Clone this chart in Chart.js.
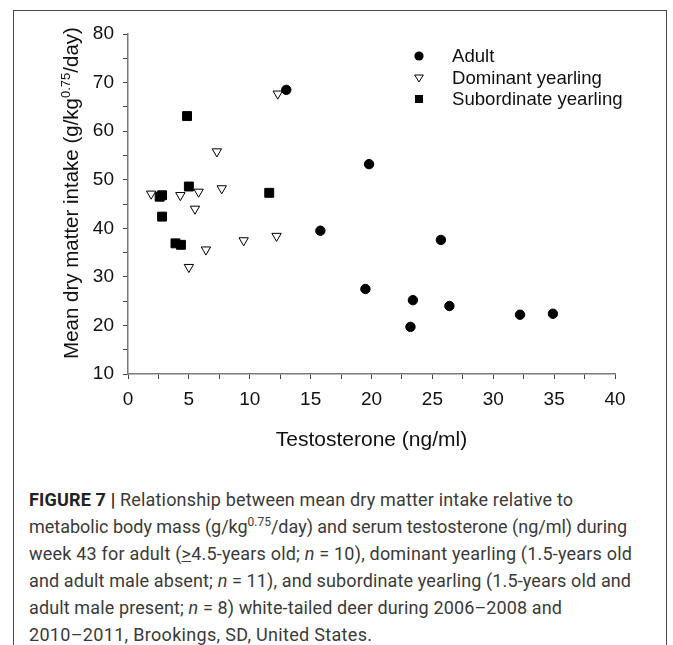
<!DOCTYPE html>
<html>
<head>
<meta charset="utf-8">
<script src="https://cdn.jsdelivr.net/npm/chart.js@4.4.1/dist/chart.umd.min.js"></script>
<style>
  html, body { margin: 0; padding: 0; background: #fff; }
  body { width: 673px; height: 645px; position: relative; overflow: hidden; }
  #frame { position: absolute; left: 13px; top: 10px; width: 654px; height: 700px; border: 1px solid #4a4a4a; box-sizing: border-box; }
  #chart { position: absolute; left: 0; top: 0; }
  #caption { position: absolute; left: 29px; top: 486px; font-family: Roboto, "Liberation Sans", sans-serif; font-size: 18px; line-height: 27px; color: #3a3a3a; white-space: nowrap; }
  #caption .line { display: block; width: max-content; }
  #caption b { color: #222; }
  #caption sup { font-size: 12px; line-height: 0; vertical-align: 7px; }
</style>
</head>
<body>
<div id="frame"></div>
<canvas id="chart" width="673" height="470"></canvas>
<div id="caption">
<span class="line"><b>FIGURE 7 |</b> Relationship between mean dry matter intake relative to</span>
<span class="line">metabolic body mass (g/kg<sup>0.75</sup>/day) and serum testosterone (ng/ml) during</span>
<span class="line">week 43 for adult (<u>&gt;</u>4.5-years old; <i>n</i> = 10), dominant yearling (1.5-years old</span>
<span class="line">and adult male absent; <i>n</i> = 11), and subordinate yearling (1.5-years old and</span>
<span class="line">adult male present; <i>n</i> = 8) white-tailed deer during 2006–2008 and</span>
<span class="line">2010–2011, Brookings, SD, United States.</span>
</div>
<script>
// testosterone (ng/ml) and intake (g/kg^0.75/day)
const adultX = [13.0, 19.8, 15.8, 25.7, 19.5, 23.4, 23.2, 26.4, 32.2, 34.9];
const adultY = [68.5, 53.2, 39.5, 37.6, 27.5, 25.2, 19.7, 24.0, 22.2, 22.4];

const dominantX = [12.3, 7.3, 7.7, 1.9, 4.3, 5.8, 5.5, 9.5, 12.2, 6.4, 5.0];
const dominantY = [67.7, 55.8, 48.2, 47.1, 46.8, 47.5, 44.0, 37.5, 38.4, 35.6, 32.0];

const subordinateX = [4.85, 5.0, 11.6, 2.8, 2.6, 2.8, 3.9, 4.35];
const subordinateY = [63.1, 48.6, 47.3, 46.8, 46.5, 42.4, 36.9, 36.6];

const seriesNames = ['Adult', 'Dominant yearling', 'Subordinate yearling'];
const xTicks = [0, 5, 10, 15, 20, 25, 30, 35, 40];
const yTicks = [10, 20, 30, 40, 50, 60, 70, 80];

// right edge of each caption line in the figure
const captionRight = [573, 627, 632, 631, 562, 372];

function toPoints(xs, ys) {
    return xs.map((x, i) => ({ x: x, y: ys[i] }));
}

function fitCaption() {
    const lines = document.querySelectorAll('#caption .line');
    lines.forEach((el, i) => {
        el.style.letterSpacing = '0px';
        const box = el.getBoundingClientRect();
        const chars = el.textContent.length;
        const gap = (captionRight[i] - box.right) / Math.max(chars - 1, 1);
        el.style.letterSpacing = gap.toFixed(3) + 'px';
    });
}

const FONT = '"Liberation Sans", Arial, sans-serif';

const titlesAndLegend = {
    id: 'titlesAndLegend',
    afterDraw(chart) {
        const ctx = chart.ctx;
        const area = chart.chartArea;
        ctx.save();
        ctx.fillStyle = '#111';

        // x axis title
        ctx.font = '21px ' + FONT;
        ctx.textAlign = 'center';
        ctx.textBaseline = 'alphabetic';
        ctx.fillText('Testosterone (ng/ml)', (area.left + area.right) / 2, 446);

        // y axis title with superscript
        const partA = 'Mean dry matter intake (g/kg';
        const partSup = '0.75';
        const partB = '/day)';
        ctx.font = '20.5px ' + FONT;
        const wA = ctx.measureText(partA).width;
        const wB = ctx.measureText(partB).width;
        ctx.font = '13px ' + FONT;
        const wS = ctx.measureText(partSup).width;
        const total = wA + wS + wB;
        ctx.translate(78, 193);
        ctx.rotate(-Math.PI / 2);
        ctx.textAlign = 'left';
        const x0 = -total / 2;
        ctx.font = '20.5px ' + FONT;
        ctx.fillText(partA, x0, 0);
        ctx.font = '13px ' + FONT;
        ctx.fillText(partSup, x0 + wA, -8.5);
        ctx.font = '20.5px ' + FONT;
        ctx.fillText(partB, x0 + wA + wS, 0);
        ctx.restore();

        // legend
        ctx.save();
        const lx = 419, ly = [56, 78, 99];
        ctx.fillStyle = '#000';
        ctx.strokeStyle = '#000';
        ctx.lineWidth = 1;
        ctx.beginPath();
        ctx.arc(lx, ly[0], 4.6, 0, Math.PI * 2);
        ctx.fill();
        ctx.beginPath();
        ctx.moveTo(lx - 4.3, ly[1] - 3);
        ctx.lineTo(lx + 4.3, ly[1] - 3);
        ctx.lineTo(lx, ly[1] + 4);
        ctx.closePath();
        ctx.fillStyle = '#fff';
        ctx.fill();
        ctx.stroke();
        ctx.fillStyle = '#000';
        ctx.fillRect(lx - 4, ly[2] - 4, 8, 8);
        ctx.fillStyle = '#111';
        ctx.font = '18.6px ' + FONT;
        ctx.textAlign = 'left';
        ctx.textBaseline = 'middle';
        seriesNames.forEach((name, i) => ctx.fillText(name, 452, ly[i] + 1));
        ctx.restore();
    }
};

new Chart(document.getElementById('chart'), {
    type: 'scatter',
    data: {
        datasets: [
            {
                label: seriesNames[0],
                data: toPoints(adultX, adultY),
                pointStyle: 'circle',
                pointRadius: 4.7,
                backgroundColor: '#000',
                borderColor: '#000',
                borderWidth: 1
            },
            {
                label: seriesNames[1],
                data: toPoints(dominantX, dominantY),
                pointStyle: 'triangle',
                rotation: 180,
                pointRadius: 5.4,
                backgroundColor: '#fff',
                borderColor: '#000',
                borderWidth: 1
            },
            {
                label: seriesNames[2],
                data: toPoints(subordinateX, subordinateY),
                pointStyle: 'rect',
                pointRadius: 6.3,
                backgroundColor: '#000',
                borderColor: '#000',
                borderWidth: 1
            }
        ]
    },
    options: {
        responsive: false,
        animation: false,
        events: [],
        layout: { padding: { left: 0, right: 58, top: 34, bottom: 0 } },
        plugins: { legend: { display: false }, tooltip: { enabled: false } },
        scales: {
            x: {
                type: 'linear',
                min: 0,
                max: 40,
                afterFit: (scale) => { scale.height = 96; },
                afterBuildTicks: (scale) => {
                    const t = [];
                    for (let v = 0; v <= 40; v += 2.5) t.push({ value: v });
                    scale.ticks = t;
                },
                ticks: {
                    autoSkip: false,
                    maxRotation: 0,
                    padding: 9,
                    color: '#111',
                    font: { family: FONT, size: 19 },
                    callback: (v) => xTicks.includes(v) ? String(v) : ''
                },
                grid: { drawOnChartArea: false, drawTicks: true, tickLength: 5, color: '#444' },
                border: { display: true, color: '#7a7a7a', width: 1.5 }
            },
            y: {
                type: 'linear',
                min: 10,
                max: 80,
                afterFit: (scale) => { scale.width = 128; },
                afterBuildTicks: (scale) => {
                    const t = [];
                    for (let v = 10; v <= 80; v += 5) t.push({ value: v });
                    scale.ticks = t;
                },
                ticks: {
                    autoSkip: false,
                    padding: 9,
                    color: '#111',
                    font: { family: FONT, size: 19 },
                    callback: (v) => yTicks.includes(v) ? String(v) : ''
                },
                grid: { drawOnChartArea: false, drawTicks: true, tickLength: 5, color: '#444' },
                border: { display: true, color: '#7a7a7a', width: 1.5 }
            }
        }
    },
    plugins: [titlesAndLegend]
});

fitCaption();
if (document.fonts && document.fonts.ready) document.fonts.ready.then(fitCaption);
</script>
</body>
</html>
